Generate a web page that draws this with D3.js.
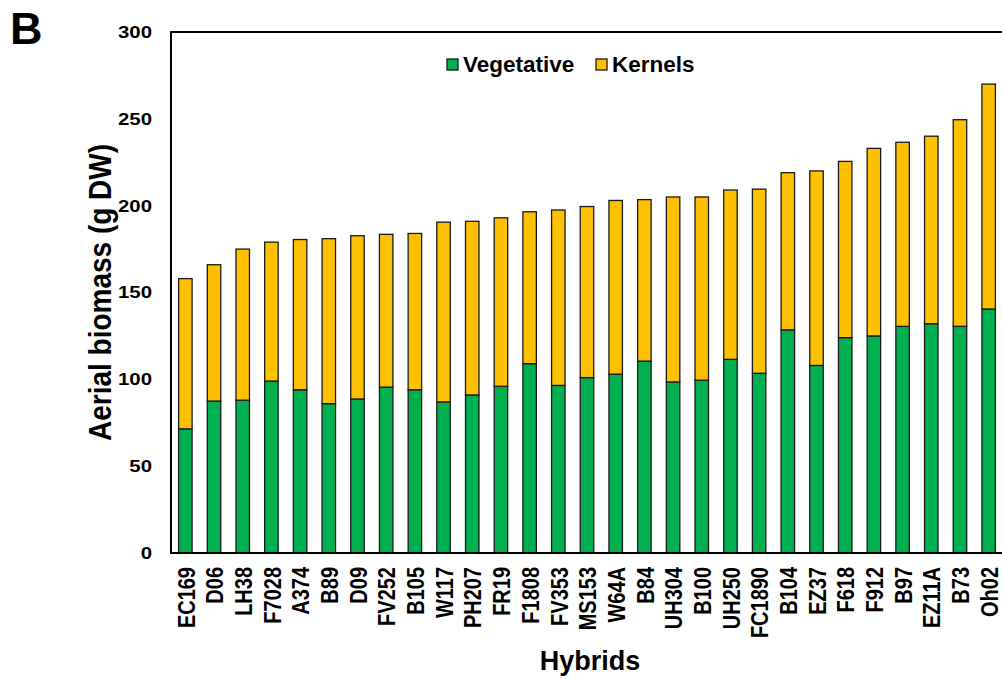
<!DOCTYPE html>
<html>
<head>
<meta charset="utf-8">
<script src="https://cdn.jsdelivr.net/npm/d3@7"></script>
<style>
  body { margin: 0; background: #fff; }
  text { font-family: "Liberation Sans", Arial, sans-serif; font-weight: bold; fill: #000; }
</style>
</head>
<body>
<div id="chart"></div>
<script>
// data
var hybrids = ["EC169","D06","LH38","F7028","A374","B89","D09","FV252","B105","W117",
  "PH207","FR19","F1808","FV353","MS153","W64A","B84","UH304","B100","UH250",
  "FC1890","B104","EZ37","F618","F912","B97","EZ11A","B73","Oh02"];
var vegetative = [71.5,87.5,88,99,94,86,88.7,95.5,94,87,
  91,96,109,96.5,101,103,110.5,98.5,99.5,111.5,
  103.5,128.5,108,124,125,130.5,132,130.5,140.5];
var kernels = [86.5,78.5,87,80,86.5,95,94,88,90,103.5,
  100,97,87.5,101,98.5,100,93,106.5,105.5,97.5,
  106,90.5,112,101.5,108,106,108,119,129.5];
var yTicks = [0,50,100,150,200,250,300];
var seriesNames = ["Vegetative","Kernels"];

var margin = {top: 32, right: 0, bottom: 126, left: 171},
    W = 1002, H = 679,
    width = 832,
    height = H - margin.top - margin.bottom;

var color = d3.scaleOrdinal().domain(seriesNames).range(["#00B050","#FFC000"]);

var svg = d3.select("#chart").append("svg")
    .attr("width", W)
    .attr("height", H);

var g = svg.append("g")
    .attr("transform", "translate(" + margin.left + "," + margin.top + ")");

var x = d3.scaleBand().domain(hybrids).range([0, width]).paddingInner(0.53).paddingOuter(0.265);
var y = d3.scaleLinear().domain([0, 300]).range([height, 0]);

var rows = hybrids.map(function(h, i) {
  return {name: h, Vegetative: vegetative[i], Kernels: kernels[i]};
});
var stack = d3.stack().keys(seriesNames)(rows);

// bars
g.selectAll(".serie")
    .data(stack)
  .enter().append("g")
    .attr("class", "serie")
    .attr("fill", function(d) { return color(d.key); })
  .selectAll("rect")
    .data(function(d) { return d; })
  .enter().append("rect")
    .attr("x", function(d) { return x(d.data.name); })
    .attr("y", function(d) { return y(d[1]); })
    .attr("width", x.bandwidth())
    .attr("height", function(d) { return y(d[0]) - y(d[1]); })
    .attr("stroke", "#1a1a1a")
    .attr("stroke-width", 1.3);

// frame
g.append("rect")
    .attr("x", 0).attr("y", 0)
    .attr("width", width).attr("height", height)
    .attr("fill", "none")
    .attr("stroke", "#000")
    .attr("stroke-width", 2);

// y axis labels (the figure's text is a bit stretched sideways)
g.selectAll(".ytick")
    .data(yTicks)
  .enter().append("text")
    .attr("transform", function(d) { return "translate(-19," + y(d) + ") scale(1.2,1)"; })
    .attr("dy", "0.35em")
    .attr("text-anchor", "end")
    .style("font-size", "17px")
    .text(function(d) { return d; });

// x axis labels
g.selectAll(".xtick")
    .data(hybrids)
  .enter().append("text")
    .attr("transform", function(d) {
      return "translate(" + (x(d) + x.bandwidth() / 2 + 1) + "," + (height + 14) + ") rotate(-90) scale(1,1.17)";
    })
    .attr("dy", "0.35em")
    .attr("text-anchor", "end")
    .style("font-size", "20px")
    .text(function(d) { return d; });

// axis titles
svg.append("text")
    .attr("transform", "translate(111," + (margin.top + height / 2) + ") rotate(-90) scale(1,1.12)")
    .attr("text-anchor", "middle")
    .style("font-size", "28px")
    .text("Aerial biomass (g DW)");

svg.append("text")
    .attr("x", 590)
    .attr("y", 670)
    .attr("text-anchor", "middle")
    .style("font-size", "27px")
    .text("Hybrids");

svg.append("text")
    .attr("x", 10)
    .attr("y", 44)
    .style("font-size", "45px")
    .text("B");

// legend
var legend = svg.selectAll(".legend")
    .data(seriesNames)
  .enter().append("g")
    .attr("transform", function(d, i) { return "translate(" + (447 + i * 149) + ",59)"; });

legend.append("rect")
    .attr("width", 11).attr("height", 11)
    .attr("fill", function(d) { return color(d); })
    .attr("stroke", "#1a1a1a")
    .attr("stroke-width", 1.3);

legend.append("text")
    .attr("x", 16)
    .attr("y", 5.5)
    .attr("dy", "0.35em")
    .style("font-size", "22.5px")
    .text(function(d) { return d; });
</script>
</body>
</html>
